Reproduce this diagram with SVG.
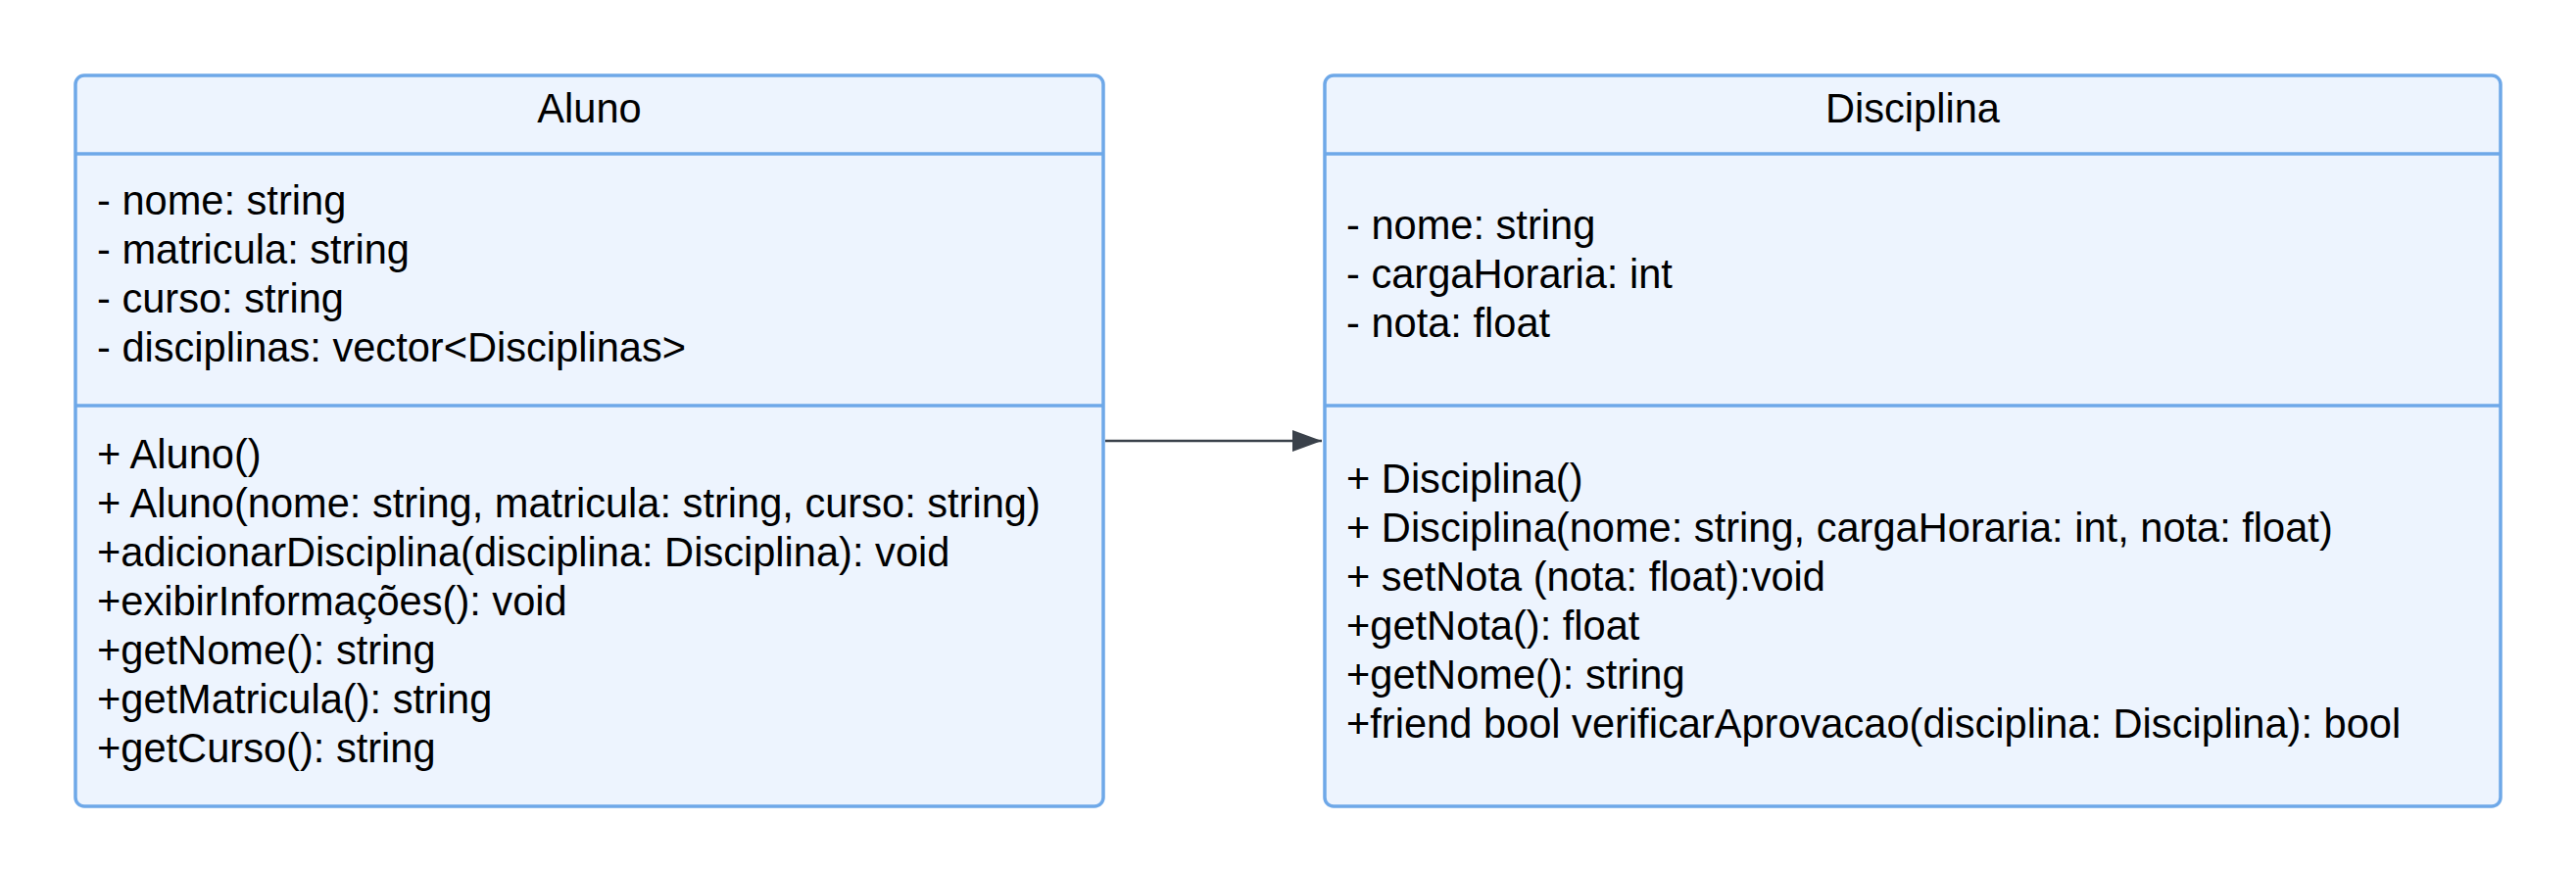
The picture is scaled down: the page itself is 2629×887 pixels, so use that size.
<svg xmlns="http://www.w3.org/2000/svg" width="2629" height="887" viewBox="0 0 2629 887">
<defs>
<style>
.box{fill:#EDF4FE;stroke:#6EA8E8;stroke-width:3.5}
.div{stroke:#6EA8E8;stroke-width:3.5;fill:none}
.t{font-family:"Liberation Sans",Arial,sans-serif;font-size:41.6px;fill:#000}
.title{text-anchor:middle}
.conn{stroke:#3A414A;stroke-width:2.5;fill:none}
</style>
<marker id="arrow" markerUnits="userSpaceOnUse" markerWidth="32" markerHeight="22" refX="30" refY="11" orient="auto">
<path d="M0,0 L30,11 L0,22 Z" fill="#3A414A"/>
</marker>
</defs>
<rect width="2629" height="887" fill="#FFFFFF"/>
<g id="aluno">
<rect class="box" x="77" y="77" width="1049" height="746" rx="9"/>
<line class="div" x1="77" y1="157" x2="1126" y2="157"/>
<line class="div" x1="77" y1="414" x2="1126" y2="414"/>
<text class="t title" x="601.5" y="125">Aluno</text>
<text class="t" x="99" y="219">- nome: string</text>
<text class="t" x="99" y="269">- matricula: string</text>
<text class="t" x="99" y="319">- curso: string</text>
<text class="t" x="99" y="369">- disciplinas: vector&lt;Disciplinas&gt;</text>
<text class="t" x="99" y="478">+ Aluno()</text>
<text class="t" x="99" y="528">+ Aluno(nome: string, matricula: string, curso: string)</text>
<text class="t" x="99" y="578">+adicionarDisciplina(disciplina: Disciplina): void</text>
<text class="t" x="99" y="628">+exibirInformações(): void</text>
<text class="t" x="99" y="678">+getNome(): string</text>
<text class="t" x="99" y="728">+getMatricula(): string</text>
<text class="t" x="99" y="778">+getCurso(): string</text>
</g>
<g id="disciplina">
<rect class="box" x="1352" y="77" width="1200" height="746" rx="9"/>
<line class="div" x1="1352" y1="157" x2="2552" y2="157"/>
<line class="div" x1="1352" y1="414" x2="2552" y2="414"/>
<text class="t title" x="1952" y="125">Disciplina</text>
<text class="t" x="1374" y="244">- nome: string</text>
<text class="t" x="1374" y="294">- cargaHoraria: int</text>
<text class="t" x="1374" y="344">- nota: float</text>
<text class="t" x="1374" y="503">+ Disciplina()</text>
<text class="t" x="1374" y="553">+ Disciplina(nome: string, cargaHoraria: int, nota: float)</text>
<text class="t" x="1374" y="603">+ setNota (nota: float):void</text>
<text class="t" x="1374" y="653">+getNota(): float</text>
<text class="t" x="1374" y="703">+getNome(): string</text>
<text class="t" x="1374" y="753">+friend bool verificarAprovacao(disciplina: Disciplina): bool</text>
</g>
<g id="connectors">
<path class="conn" d="M1128,450 L1349,450" marker-end="url(#arrow)"/>
</g>
</svg>
